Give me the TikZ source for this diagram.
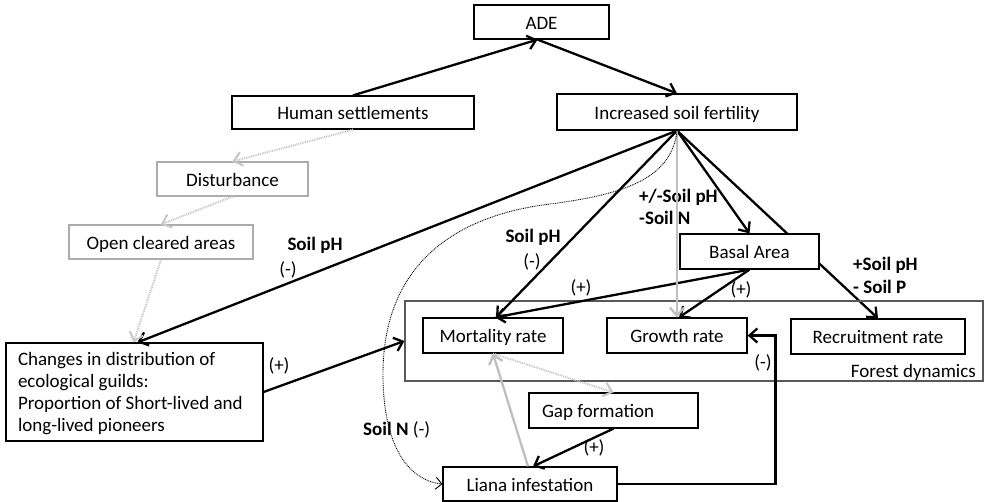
\documentclass[tikz,border=0pt]{standalone}
\usepackage{fontspec}
\setmainfont{Carlito}
\usetikzlibrary{arrows.meta,backgrounds}

\begin{document}
\begin{tikzpicture}[x=1pt,y=-1pt,
  every node/.style={font=\fontsize{19}{22}\selectfont},
  frame/.style={draw=black, line width=1.2pt, fill=white, inner sep=0pt},
  box/.style={frame, text height=15.5pt, text depth=1pt},
  softbox/.style={box, draw=gray!65},
  lbl/.style={inner sep=0pt},
  bl/.style={lbl, font=\fontsize{19}{22}\selectfont\bfseries},
  tip/.style={-{Straight Barb[length=8pt,width=14pt]}},
  link/.style={line width=2.3pt, tip},
  greylink/.style={link, draw=gray!50},
  dotlink/.style={line width=2pt, draw=gray!45, dash pattern=on 0.9pt off 0.9pt, tip},
  thindot/.style={line width=0.9pt, dash pattern=on 0.9pt off 0.9pt,
    -{Straight Barb[length=6pt,width=12pt]}},
]
\useasboundingbox (0,0) rectangle (984,502);

% forest dynamics frame
\node[draw=black!65, line width=1.2pt, minimum width=578pt, minimum height=80pt, inner sep=0pt]
  (forest) at (694,341) {};
\node[lbl, anchor=east] (forestlbl) at (976,372) {Forest dynamics};

% boxes
\node[box, minimum width=135pt, minimum height=34pt] (ade) at (541.5,22) {ADE};
\node[box, minimum width=242pt, minimum height=33pt] (hs) at (353,112.5) {Human settlements};
\node[box, minimum width=240pt, minimum height=36pt] (fert) at (677,112) {Increased soil fertility};
\node[softbox, minimum width=151pt, minimum height=34pt] (dist) at (232.5,179) {Disturbance};
\node[softbox, minimum width=184pt, minimum height=34pt] (open) at (161,242) {Open cleared areas};
\node[frame, minimum height=98pt, text width=233pt, inner xsep=12pt, align=flush left]
  (guild) at (134.5,392) {\rule{0pt}{17pt}Changes in distribution of\\ecological guilds:\\Proportion of Short-lived and\\long-lived pioneers};
\node[box, minimum width=139pt, minimum height=35pt] (basal) at (749.5,251.5) {Basal Area};
\node[box, minimum width=140pt, minimum height=35pt] (mort) at (493,335.5) {Mortality rate};
\node[box, minimum width=140pt, minimum height=35pt] (growth) at (677,335.5) {Growth rate};
\node[box, minimum width=174pt, minimum height=35pt] (recr) at (878,336.5) {Recruitment rate};
\node[box, minimum width=169pt, minimum height=35pt] (gap) at (613.5,410.5)
  {\makebox[143pt][l]{Gap formation}};
\node[box, minimum width=174pt, minimum height=34pt] (liana) at (530,484) {Liana infestation};

% connector labels
\node[bl] (phA) at (315,245) {Soil pH};
\node[lbl] (phAs) at (288,270) {(-)};
\node[bl] (phB) at (533,237) {Soil pH};
\node[lbl] (phBs) at (532,262) {(-)};
\node[bl, anchor=west] (phC) at (639,197) {+/-Soil pH};
\node[bl, anchor=west] (nC) at (639,218) {-Soil N};
\node[bl, anchor=west] (phD) at (853,265) {+Soil pH};
\node[bl, anchor=west] (pD) at (853,287) {- Soil P};
\node[lbl] (plusA) at (581,288) {(+)};
\node[lbl] (plusB) at (741,290) {(+)};
\node[lbl] (plusC) at (279,366) {(+)};
\node[lbl] (minusD) at (763,363) {(-)};
\node[lbl] (plusE) at (594,448) {(+)};
\node[lbl, anchor=west] (soilN) at (363,430) {\textbf{Soil N} (-)};

% line to recruitment passes behind the Basal Area box
\begin{pgfonlayer}{background}
  \draw[link] (fert.south) -- (recr.north);
\end{pgfonlayer}

% black links
\draw[link] (hs.north) -- ([xshift=-4pt]ade.south);
\draw[link] ([xshift=-4pt]ade.south) -- (fert.north);
\draw[link] (fert.south) -- ([xshift=3pt]guild.north);
\draw[link] (fert.south) -- ([xshift=3pt]mort.north);
\draw[link] (fert.south) -- (basal.north);
\draw[link] (basal.south) -- ([xshift=2pt]mort.north);
\draw[link] (basal.south) -- ([xshift=2pt]growth.north);
\draw[link] (guild.east) -- (forest.west);
\draw[link] (gap.south) -- ([xshift=3pt]liana.north);
\draw[link] (liana.east) -- ++(158,0) |- (growth.east);

% grey links
\draw[greylink] (fert.south) -- (growth.north);
\draw[greylink] ([xshift=-2pt]liana.north) -- (mort.south);
\draw[dotlink] (hs.south) -- (dist.north);
\draw[dotlink] (dist.south) -- (open.north);
\draw[dotlink] (open.south) -- ([xshift=-1pt]guild.north);
\draw[dotlink] (mort.south) -- (gap.north);

% soil N effect on lianas
\draw[thindot] (fert.south) .. controls (672,180) and (620,195) .. (550,204)
  .. controls (460,215) and (385,260) .. (383,370)
  .. controls (382,440) and (405,480) .. (liana.west);
\end{tikzpicture}
\end{document}
